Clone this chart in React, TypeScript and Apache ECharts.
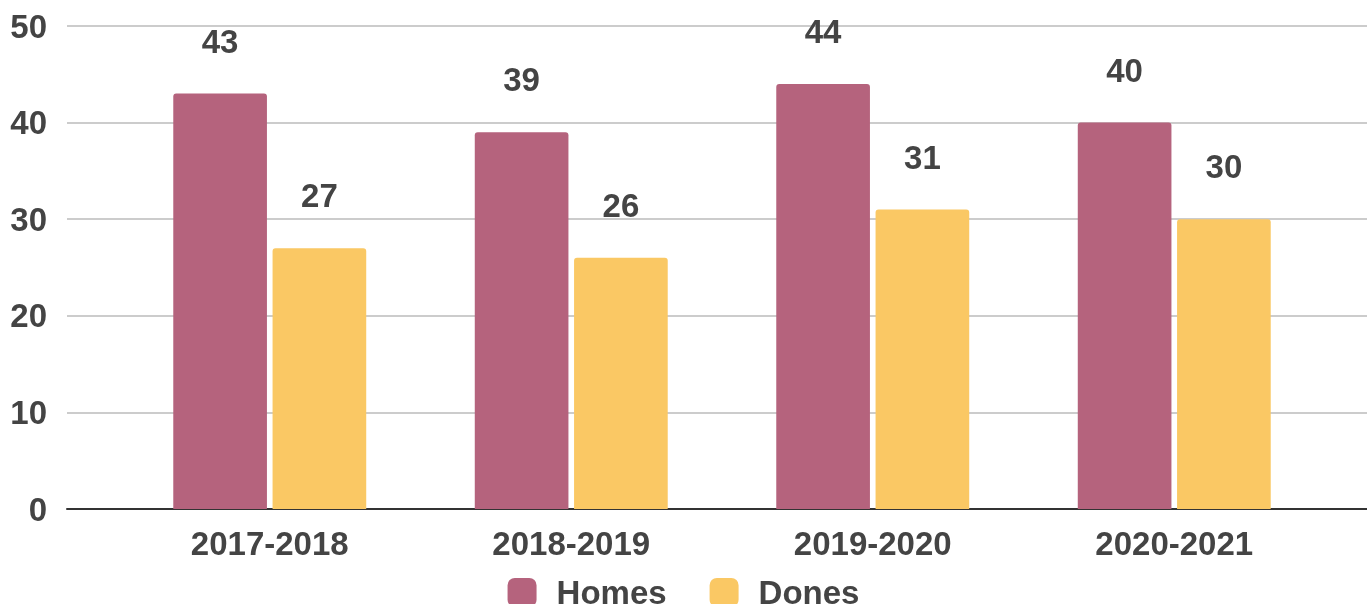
import React, { useEffect, useRef } from "react";
import * as echarts from "echarts";

const categories = ["2017-2018", "2018-2019", "2019-2020", "2020-2021"];
const homes = [43, 39, 44, 40];
const dones = [27, 26, 31, 30];
const seriesNames = ["Homes", "Dones"];

const FONT = "'Liberation Sans', Arial, sans-serif";
const TXT = "#444444";

export default function App() {
  const ref = useRef<HTMLDivElement>(null);
  useEffect(() => {
    if (!ref.current) return;
    const chart = echarts.init(ref.current, undefined, { renderer: "svg" });
    const labelStyle = {
      show: true,
      position: "top" as const,
      distance: 36,
      color: TXT,
      fontFamily: FONT,
      fontWeight: "bold" as const,
      fontSize: 33,
    };
    chart.setOption({
      animation: false,
      textStyle: { fontFamily: FONT },
      grid: [
        { left: 67, right: 0, top: 26, bottom: 95 },
        { left: 119, right: 42, top: 26, bottom: 95 },
      ],
      legend: {
        data: seriesNames,
        left: "center",
        top: 571,
        icon: "roundRect",
        itemWidth: 29,
        itemHeight: 29,
        itemGap: 43,
        textStyle: {
          color: TXT,
          fontFamily: FONT,
          fontWeight: "bold",
          fontSize: 33,
          padding: [0, 0, 0, 15],
        },
      },
      xAxis: [
        {
          gridIndex: 0,
          type: "value",
          min: 0,
          max: 1,
          axisLabel: { show: false },
          axisTick: { show: false },
          splitLine: { show: false },
          axisLine: { show: true, lineStyle: { color: "#333333", width: 2 } },
        },
        {
          gridIndex: 1,
          type: "category",
          data: categories,
          axisLine: { show: false },
          axisTick: { show: false },
          axisLabel: {
            color: TXT,
            fontFamily: FONT,
            fontWeight: "bold",
            fontSize: 33,
            margin: 18,
          },
        },
      ],
      yAxis: [
        {
          gridIndex: 0,
          type: "value",
          min: 0,
          max: 50,
          interval: 10,
          axisLine: { show: false },
          axisTick: { show: false },
          axisLabel: {
            color: TXT,
            fontFamily: FONT,
            fontWeight: "bold",
            fontSize: 33,
            margin: 20,
          },
          splitLine: { lineStyle: { color: "#cccccc", width: 2 } },
        },
        {
          gridIndex: 1,
          type: "value",
          min: 0,
          max: 50,
          interval: 10,
          show: false,
          splitLine: { show: false },
        },
      ],
      series: [
        {
          name: seriesNames[0],
          type: "bar",
          xAxisIndex: 1,
          yAxisIndex: 1,
          data: homes,
          barCategoryGap: "36%",
          barGap: "6%",
          itemStyle: { color: "#b5637d", borderRadius: [3, 3, 0, 0] },
          label: labelStyle,
        },
        {
          name: seriesNames[1],
          type: "bar",
          xAxisIndex: 1,
          yAxisIndex: 1,
          data: dones,
          barCategoryGap: "36%",
          barGap: "6%",
          itemStyle: { color: "#fac864", borderRadius: [3, 3, 0, 0] },
          label: labelStyle,
        },
      ],
    });
    return () => chart.dispose();
  }, []);
  return (
    <div
      ref={ref}
      style={{ position: "fixed", left: 0, top: 0, width: 1367, height: 604 }}
    />
  );
}
